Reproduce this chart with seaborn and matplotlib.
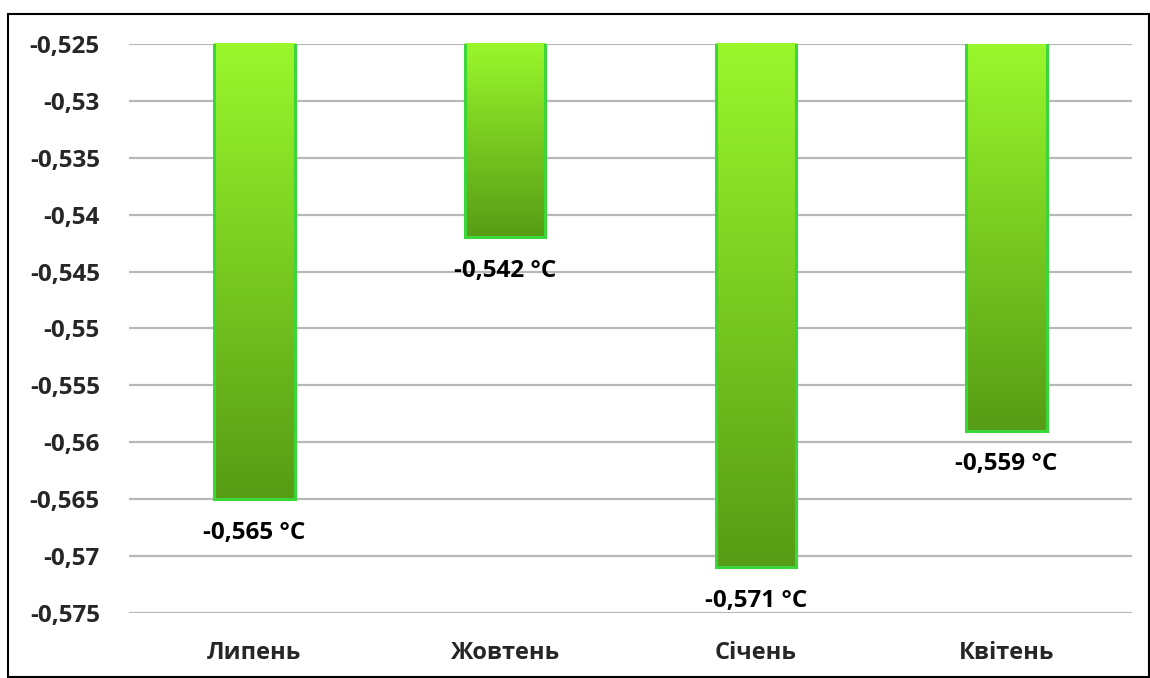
import numpy as np
import pandas as pd
import matplotlib
matplotlib.use("Agg")
import matplotlib.pyplot as plt
from matplotlib.colors import LinearSegmentedColormap
from matplotlib.patches import Rectangle
import seaborn as sns

months = ["Липень", "Жовтень", "Січень", "Квітень"]
temps = [-0.565, -0.542, -0.571, -0.559]
tick_values = [-0.575, -0.57, -0.565, -0.56, -0.555, -0.55, -0.545, -0.54, -0.535, -0.53, -0.525]
tick_labels = ["-0,575", "-0,57", "-0,565", "-0,56", "-0,555", "-0,55",
               "-0,545", "-0,54", "-0,535", "-0,53", "-0,525"]
value_labels = ["-0,565 °C", "-0,542 °C", "-0,571 °C", "-0,559 °C"]

sns.set_theme(style="white")
plt.rcParams["font.family"] = ["Open Sans", "DejaVu Sans"]
plt.rcParams["font.weight"] = "bold"

fig = plt.figure(figsize=(11.5, 6.78), dpi=100)
ax = fig.add_axes([0.1122, 0.0959, 0.8721, 0.8392])

df = pd.DataFrame({"month": months, "temp": temps})
sns.barplot(data=df, x="month", y="temp", ax=ax, width=0.32,
            color="#88dd22", saturation=1, zorder=3)

y_top, y_bot = -0.525, -0.575
ax.set_ylim(y_bot, y_top)

grad = LinearSegmentedColormap.from_list("lime", ["#579c15", "#9af72c"])
ramp = np.linspace(0, 1, 256).reshape(-1, 1)

for patch, val, lab in zip(ax.patches, temps, value_labels):
    x0 = patch.get_x()
    w = patch.get_width()
    img = ax.imshow(ramp, cmap=grad, origin="lower", aspect="auto",
                    extent=(x0, x0 + w, val, y_top), zorder=2)
    img.set_clip_path(patch)
    patch.set_facecolor("none")
    patch.set_edgecolor("#3ad63a")
    patch.set_linewidth(2.2)
    patch.set_zorder(3)
    ax.annotate(lab, xy=(x0 + w / 2, val), xytext=(0, -24),
                textcoords="offset points", ha="center", va="center",
                fontsize=17.5, fontweight="bold", color="black")

ax.set_xlim(-0.5, len(months) - 0.5)
ax.set_yticks(tick_values)
ax.set_yticklabels(tick_labels, fontsize=17.5, fontweight="bold")
ax.tick_params(axis="y", length=0, pad=21)
ax.tick_params(axis="x", length=0, pad=20, labelsize=17)
for t in ax.get_xticklabels():
    t.set_fontweight("bold")
ax.set_xlabel("")
ax.set_ylabel("")
ax.yaxis.grid(True, color="#b8b8b8", linewidth=1.6, zorder=0)
ax.set_axisbelow(True)
for s in ax.spines.values():
    s.set_visible(False)

fig.patches.append(Rectangle((0.007, 0.001), 0.992, 0.979,
                             transform=fig.transFigure, fill=False,
                             edgecolor="black", linewidth=1.5, zorder=0))

fig.savefig("out.png", dpi=100)
